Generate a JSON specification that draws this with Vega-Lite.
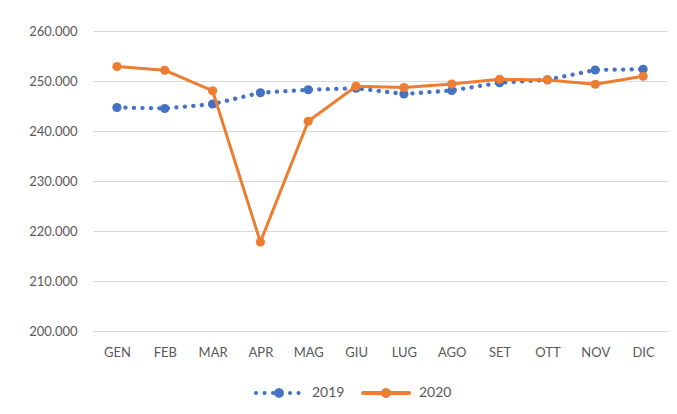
{
  "$schema": "https://vega.github.io/schema/vega-lite/v6.json",
  "width": 574,
  "height": 300,
  "autosize": {"type": "none"},
  "padding": {"left": 93, "top": 31, "right": 10, "bottom": 83},
  "background": "white",
  "config": {
    "view": {"stroke": null},
    "font": "Lato",
    "locale": {"number": {"decimal": ",", "thousands": ".", "grouping": [3], "currency": ["€", ""]}}
  },
  "data": {
    "values": [
      {"mese": "GEN", "anno": "2019", "valore": 244700},
      {"mese": "FEB", "anno": "2019", "valore": 244500},
      {"mese": "MAR", "anno": "2019", "valore": 245400},
      {"mese": "APR", "anno": "2019", "valore": 247650},
      {"mese": "MAG", "anno": "2019", "valore": 248250},
      {"mese": "GIU", "anno": "2019", "valore": 248550},
      {"mese": "LUG", "anno": "2019", "valore": 247400},
      {"mese": "AGO", "anno": "2019", "valore": 248100},
      {"mese": "SET", "anno": "2019", "valore": 249650},
      {"mese": "OTT", "anno": "2019", "valore": 250250},
      {"mese": "NOV", "anno": "2019", "valore": 252200},
      {"mese": "DIC", "anno": "2019", "valore": 252350},
      {"mese": "GEN", "anno": "2020", "valore": 252900},
      {"mese": "FEB", "anno": "2020", "valore": 252150},
      {"mese": "MAR", "anno": "2020", "valore": 248050},
      {"mese": "APR", "anno": "2020", "valore": 217800},
      {"mese": "MAG", "anno": "2020", "valore": 241950},
      {"mese": "GIU", "anno": "2020", "valore": 248950},
      {"mese": "LUG", "anno": "2020", "valore": 248700},
      {"mese": "AGO", "anno": "2020", "valore": 249400},
      {"mese": "SET", "anno": "2020", "valore": 250350},
      {"mese": "OTT", "anno": "2020", "valore": 250200},
      {"mese": "NOV", "anno": "2020", "valore": 249350},
      {"mese": "DIC", "anno": "2020", "valore": 250950}
    ]
  },
  "encoding": {
    "x": {
      "field": "mese", "type": "nominal",
      "sort": ["GEN", "FEB", "MAR", "APR", "MAG", "GIU", "LUG", "AGO", "SET", "OTT", "NOV", "DIC"],
      "scale": {"paddingInner": 0, "paddingOuter": 0},
      "axis": {"title": null, "labelAngle": 0, "domain": false, "ticks": false, "grid": false, "labelPadding": 15, "labelFontSize": 13, "labelColor": "#595959"}
    },
    "y": {
      "field": "valore", "type": "quantitative",
      "scale": {"domain": [200000, 260000], "nice": false, "zero": false},
      "axis": {"title": null, "values": [200000, 210000, 220000, 230000, 240000, 250000, 260000], "format": ",d", "domain": false, "ticks": false, "labelPadding": 16, "labelFontSize": 13, "labelColor": "#595959", "gridColor": "#d9d9d9", "gridWidth": 1}
    },
    "color": {
      "field": "anno", "type": "nominal",
      "scale": {"domain": ["2019", "2020"], "range": ["#4472C4", "#ED7D31"]},
      "legend": {
        "title": null, "orient": "none", "direction": "horizontal", "legendX": 161, "legendY": 337,
        "symbolType": "M-1,0L1,0M0.13,0A0.13,0.13,0,1,1,-0.13,0A0.13,0.13,0,1,1,0.13,0ZM0.13,0l0.001,0M0.113,0.065l0.001,0M0.065,0.113l0.001,0M0,0.13l0.001,0M-0.065,0.113l0.001,0M-0.113,0.065l0.001,0M-0.13,0l0.001,0M-0.113,-0.065l0.001,0M-0.065,-0.113l0.001,0M0,-0.13l0.001,0M0.065,-0.113l0.001,0M0.113,-0.065l0.001,0",
        "symbolSize": 2116, "symbolStrokeWidth": 4, "labelFontSize": 14, "labelColor": "#595959",
        "labelOffset": 8, "columnPadding": 10,
        "encode": {"symbols": {"update": {"fill": {"scale": "color", "field": "value"}, "strokeCap": {"value": "round"}}}}
      }
    }
  },
  "layer": [
    {
      "transform": [{"filter": "datum.anno === '2019'"}],
      "mark": {"type": "line", "strokeWidth": 4.3, "strokeCap": "round"},
      "encoding": {
        "strokeDash": {"field": "anno", "type": "nominal", "scale": {"domain": ["2019", "2020"], "range": [[0.1, 8.4], [1, 0]]}, "legend": {"title": null}}
      }
    },
    {
      "transform": [{"filter": "datum.anno === '2019'"}],
      "mark": {"type": "point", "filled": true, "size": 85, "opacity": 1}
    },
    {
      "transform": [{"filter": "datum.anno === '2020'"}],
      "mark": {"type": "line", "strokeWidth": 3, "strokeCap": "round", "strokeJoin": "round"},
      "encoding": {
        "strokeDash": {"field": "anno", "type": "nominal", "scale": {"domain": ["2019", "2020"], "range": [[0.1, 8.4], [1, 0]]}, "legend": {"title": null}}
      }
    },
    {
      "transform": [{"filter": "datum.anno === '2020'"}],
      "mark": {"type": "point", "filled": true, "size": 85, "opacity": 1}
    }
  ]
}
